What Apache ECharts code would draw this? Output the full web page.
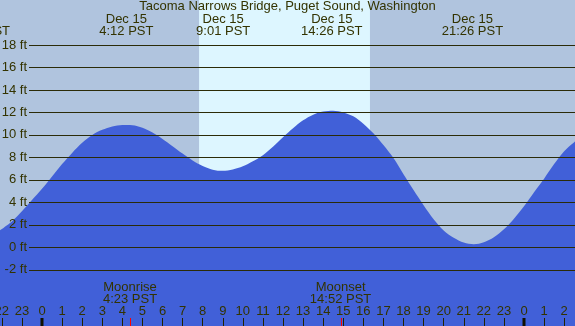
<!DOCTYPE html>
<html>
<head>
<meta charset="utf-8">
<script src="https://cdn.jsdelivr.net/npm/echarts@6/dist/echarts.min.js"></script>
<style>
  html, body { margin: 0; padding: 0; }
  #chart { width: 575px; height: 326px; }
</style>
</head>
<body>
<div id="chart"></div>
<script>
// tide height (ft) by hour of Dec 15 (negative = Dec 14, >24 = Dec 16)
const tideHours = [-2.1, -1.5, -1, -0.5, 0, 0.5, 1, 1.5, 2, 2.5, 3, 3.5, 4, 4.5, 5, 5.5, 6, 6.5, 7, 7.5, 8, 8.5, 9, 9.5,
  10, 10.5, 11, 11.5, 12, 12.5, 13, 13.5, 14, 14.5, 15, 15.5, 16, 16.5, 17, 17.5, 18, 18.5, 19, 19.5,
  20, 20.5, 21, 21.5, 22, 22.5, 23, 23.5, 24, 24.5, 25, 25.5, 26, 26.5, 27];
const tideFeet = [1.5, 2.3, 3.2, 4.2, 5.2, 6.3, 7.4, 8.4, 9.3, 10.0, 10.45, 10.75, 10.88, 10.86, 10.63, 10.21, 9.64, 9.0, 8.34, 7.73, 7.24, 6.91, 6.8, 6.92,
  7.2, 7.65, 8.2, 8.95, 9.8, 10.6, 11.3, 11.8, 12.08, 12.15, 12.0, 11.65, 11.0, 10.15, 9.1, 7.95, 6.5, 5.1, 3.75, 2.5,
  1.5, 0.85, 0.42, 0.27, 0.45, 0.9, 1.6, 2.55, 3.65, 4.9, 6.1, 7.4, 8.55, 9.35, 10.0];

// high / low labels along the top
const extremeHours = [-3.12, 4.2, 9.02, 14.43, 21.43];
const extremeLabels = ['Dec 14\n20:53 PST', 'Dec 15\n4:12 PST', 'Dec 15\n9:01 PST', 'Dec 15\n14:26 PST', 'Dec 15\n21:26 PST'];

// moon events along the bottom
const moonHours = [4.383, 14.867];
const moonLabels = ['Moonrise\n4:23 PST', 'Moonset\n14:52 PST'];

const midnightHours = [0, 24];
const daylight = [7.82, 16.33];   // sunrise, sunset
const footLevels = [-2, 0, 2, 4, 6, 8, 10, 12, 14, 16, 18];

const textColor = '#333300';
const fontFamily = '"Liberation Sans", Arial, sans-serif';
const font = '13px ' + fontFamily;

const chart = echarts.init(document.getElementById('chart'));

chart.setOption({
  backgroundColor: '#b0c4de',
  animation: false,
  title: {
    text: 'Tacoma Narrows Bridge, Puget Sound, Washington',
    left: 'center',
    top: 0,
    padding: 0,
    textStyle: { fontSize: 13, fontWeight: 'normal', color: textColor, fontFamily: fontFamily }
  },
  grid: [
    { left: -18.25, right: -9.25, top: 0, bottom: 0, outerBoundsMode: 'none' },
    { left: 29, right: 0, top: 45, bottom: 56.2, outerBoundsMode: 'none' }
  ],
  xAxis: [
    {
      type: 'value',
      gridIndex: 0,
      min: -3,
      max: 27,
      interval: 1,
      z: 3,
      axisLine: { show: false, onZero: false },
      splitLine: { show: false },
      axisTick: { inside: true, length: 8, lineStyle: { color: '#222200', width: 1 } },
      axisLabel: {
        inside: true,
        margin: 8,
        color: textColor,
        fontSize: 13,
        fontFamily: fontFamily,
        formatter: v => String(((v % 24) + 24) % 24)
      }
    },
    { type: 'value', gridIndex: 1, min: 0, max: 1, show: false }
  ],
  yAxis: [
    { type: 'value', gridIndex: 0, min: -7, max: 22, show: false },
    {
      type: 'value',
      gridIndex: 1,
      min: footLevels[0],
      max: footLevels[footLevels.length - 1],
      interval: 2,
      z: 3,
      axisLine: { show: false, onZero: false },
      axisTick: { show: false },
      splitLine: { show: false },
      axisLabel: {
        margin: 2,
        color: textColor,
        fontSize: 13,
        fontFamily: fontFamily,
        formatter: '{value} ft'
      }
    }
  ],
  series: [
    {
      type: 'line',
      xAxisIndex: 0,
      yAxisIndex: 0,
      z: 2,
      data: tideHours.map((h, i) => [h, tideFeet[i]]),
      smooth: 0.3,
      showSymbol: false,
      lineStyle: { width: 0 },
      areaStyle: { origin: 'start', color: '#4160d8', opacity: 1 },
      markArea: {
        silent: true,
        itemStyle: { color: '#ddf6ff' },
        data: [[{ xAxis: daylight[0] }, { xAxis: daylight[1] }]]
      }
    },
    {
      // ft grid lines, drawn over the water
      type: 'custom',
      xAxisIndex: 1,
      yAxisIndex: 1,
      z: 4,
      silent: true,
      data: footLevels.map(v => [0, v]),
      renderItem: (params, api) => {
        const a = api.coord([0, api.value(1)]);
        const b = api.coord([1, api.value(1)]);
        const y = Math.round(a[1]) + 0.5;
        return {
          type: 'line',
          shape: { x1: a[0], y1: y, x2: b[0], y2: y },
          style: { stroke: '#2b2b08', lineWidth: 1 }
        };
      }
    },
    {
      type: 'custom',
      xAxisIndex: 0,
      yAxisIndex: 0,
      z: 5,
      data: midnightHours.map(h => [h, 0]),
      renderItem: (params, api) => {
        const x = api.coord([api.value(0), 0])[0];
        return { type: 'rect', shape: { x: x - 1.5, y: 318, width: 3, height: 8 }, style: { fill: '#111100' } };
      }
    },
    {
      type: 'custom',
      xAxisIndex: 0,
      yAxisIndex: 0,
      z: 5,
      data: moonHours.map(h => [h, 0]),
      renderItem: (params, api) => {
        const x = Math.round(api.coord([api.value(0), 0])[0]);
        return { type: 'rect', shape: { x: x, y: 318, width: 1, height: 8 }, style: { fill: '#ff0000' } };
      }
    },
    {
      type: 'custom',
      xAxisIndex: 0,
      yAxisIndex: 0,
      z: 6,
      data: extremeHours.map(h => [h, 0]),
      renderItem: (params, api) => {
        const x = api.coord([api.value(0), 0])[0];
        return {
          type: 'text',
          style: {
            x: x, y: 13.5, text: extremeLabels[params.dataIndex],
            align: 'center', verticalAlign: 'top', lineHeight: 12, font: font, fill: textColor
          }
        };
      }
    },
    {
      type: 'custom',
      xAxisIndex: 0,
      yAxisIndex: 0,
      z: 6,
      data: moonHours.map(h => [h, 0]),
      renderItem: (params, api) => {
        const x = api.coord([api.value(0), 0])[0];
        return {
          type: 'text',
          style: {
            x: x, y: 281, text: moonLabels[params.dataIndex],
            align: 'center', verticalAlign: 'top', lineHeight: 12, font: font, fill: textColor
          }
        };
      }
    }
  ]
});
</script>
</body>
</html>
